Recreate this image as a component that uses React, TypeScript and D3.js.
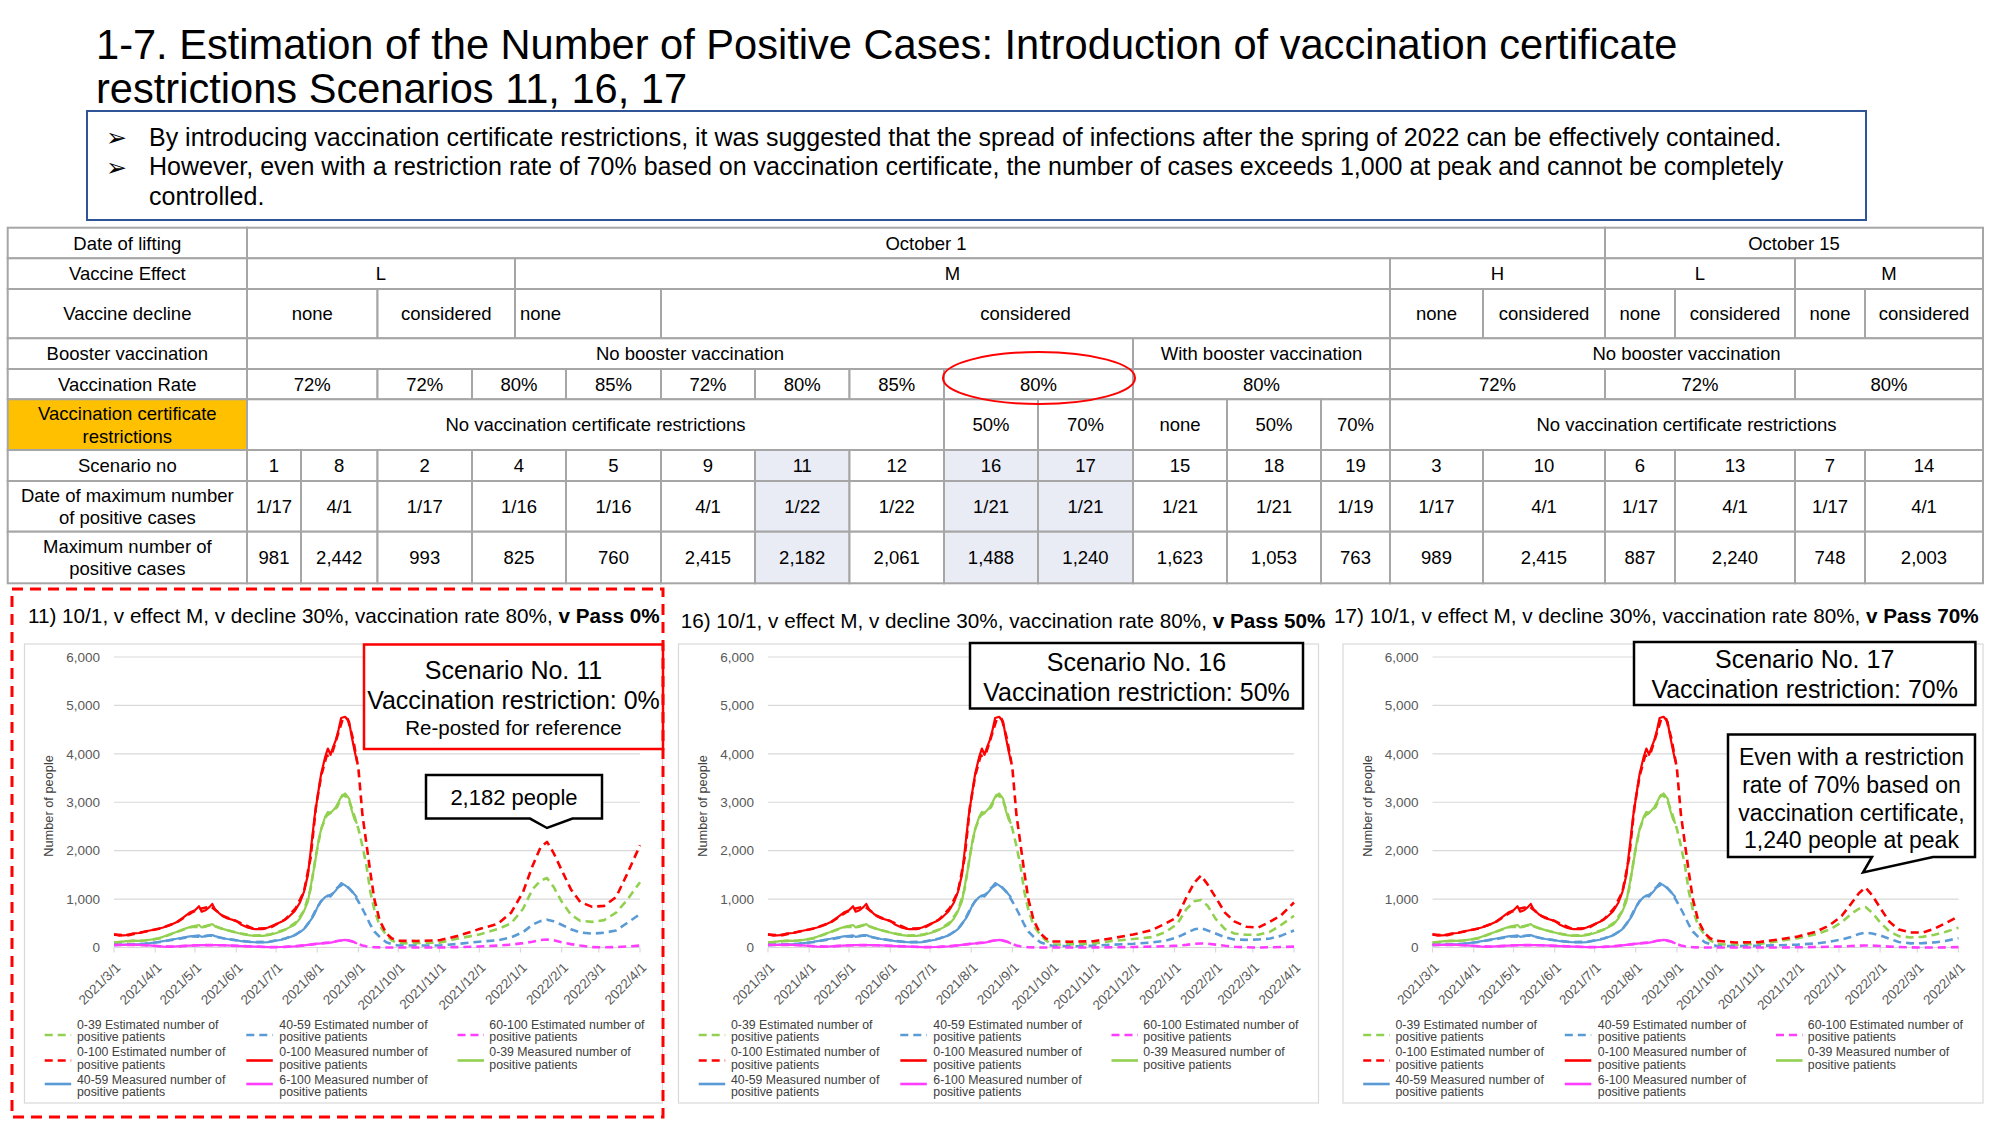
import React from 'react';
import * as d3 from 'd3';

const FONT = '"Liberation Sans", Arial, Helvetica, sans-serif';

// ---------- header
const titleLines = [
  '1-7. Estimation of the Number of Positive Cases: Introduction of vaccination certificate',
  'restrictions Scenarios 11, 16, 17',
];
const bulletLines = [
  { bullet: true, text: 'By introducing vaccination certificate restrictions, it was suggested that the spread of infections after the spring of 2022 can be effectively contained.' },
  { bullet: true, text: 'However, even with a restriction rate of 70% based on vaccination certificate, the number of cases exceeds 1,000 at peak and cannot be completely' },
  { bullet: false, text: 'controlled.' },
];

// ---------- table
const rowLabels = [
  ['Date of lifting'], ['Vaccine Effect'], ['Vaccine decline'], ['Booster vaccination'], ['Vaccination Rate'],
  ['Vaccination certificate', 'restrictions'], ['Scenario no'], ['Date of maximum number', 'of positive cases'],
  ['Maximum number of', 'positive cases'],
];
const liftingDates = ['October 1', 'October 15'];
const vaccineEffects = ['L', 'M', 'H', 'L', 'M'];
const vaccineDeclines = ['none', 'considered', 'none', 'considered', 'none', 'considered', 'none', 'considered', 'none', 'considered'];
const boosterTypes = ['No booster vaccination', 'With booster vaccination', 'No booster vaccination'];
const vaccinationRates = ['72%', '72%', '80%', '85%', '72%', '80%', '85%', '80%', '80%', '72%', '72%', '80%'];
const certRestrictions = ['No vaccination certificate restrictions', '50%', '70%', 'none', '50%', '70%', 'No vaccination certificate restrictions'];
const scenarioNos = ['1', '8', '2', '4', '5', '9', '11', '12', '16', '17', '15', '18', '19', '3', '10', '6', '13', '7', '14'];
const peakDates = ['1/17', '4/1', '1/17', '1/16', '1/16', '4/1', '1/22', '1/22', '1/21', '1/21', '1/21', '1/21', '1/19', '1/17', '4/1', '1/17', '4/1', '1/17', '4/1'];
const peakCases = ['981', '2,442', '993', '825', '760', '2,415', '2,182', '2,061', '1,488', '1,240', '1,623', '1,053', '763', '989', '2,415', '887', '2,240', '748', '2,003'];
const highlighted = ['11', '16', '17'];

// ---------- charts
const xTickLabels = ['2021/3/1', '2021/4/1', '2021/5/1', '2021/6/1', '2021/7/1', '2021/8/1', '2021/9/1', '2021/10/1',
  '2021/11/1', '2021/12/1', '2022/1/1', '2022/2/1', '2022/3/1', '2022/4/1'];
const yTicks = [0, 1000, 2000, 3000, 4000, 5000, 6000];

const measuredDates = ['2021/3/1', '2021/3/5', '2021/3/10', '2021/3/15', '2021/3/20', '2021/3/25', '2021/4/1', '2021/4/7',
  '2021/4/12', '2021/4/17', '2021/4/22', '2021/4/27', '2021/5/1', '2021/5/4', '2021/5/6', '2021/5/9', '2021/5/12',
  '2021/5/14', '2021/5/16', '2021/5/20', '2021/5/25', '2021/6/1', '2021/6/5', '2021/6/10', '2021/6/15', '2021/6/21',
  '2021/6/25', '2021/6/30', '2021/7/5', '2021/7/10', '2021/7/15', '2021/7/19', '2021/7/22', '2021/7/25', '2021/7/28',
  '2021/7/30', '2021/8/2', '2021/8/4', '2021/8/7', '2021/8/9', '2021/8/11', '2021/8/13', '2021/8/15', '2021/8/17',
  '2021/8/19', '2021/8/22', '2021/8/25', '2021/8/27', '2021/8/29', '2021/8/31'];
const measuredTotal = [275, 245, 255, 290, 300, 335, 372, 413, 460, 520, 619, 722, 770, 853, 740, 770, 839, 900, 791, 688,
  605, 550, 468, 410, 378, 380, 413, 470, 530, 620, 750, 930, 1150, 1500, 2214, 2700, 3248, 3594, 3938, 4110, 3980, 4145,
  4283, 4490, 4740, 4766, 4662, 4352, 4076, 3834];
const measured039 = [103, 110, 130, 140, 138, 150, 172, 220, 275, 320, 378, 420, 447, 465, 413, 427, 460, 485, 440, 400,
  358, 310, 280, 255, 241, 241, 255, 289, 330, 400, 470, 600, 750, 950, 1400, 1700, 2214, 2450, 2700, 2800, 2780, 2835,
  2900, 3000, 3110, 3180, 3076, 2835, 2650, 2559];
const measured4059 = [55, 55, 60, 65, 69, 80, 103, 130, 158, 180, 206, 228, 241, 250, 220, 235, 250, 258, 235, 206, 175,
  151, 130, 115, 108, 103, 110, 138, 160, 200, 250, 317, 380, 490, 600, 697, 880, 960, 1040, 1076, 1050, 1120, 1179, 1260,
  1331, 1283, 1220, 1170, 1100, 1040];
const measured60 = [55, 52, 55, 58, 55, 50, 34, 18, 10, 22, 32, 40, 45, 47, 48, 48, 50, 52, 50, 47, 42, 35, 30, 25, 20,
  12, 8, 5, 10, 18, 25, 35, 45, 55, 65, 70, 80, 85, 95, 97, 100, 110, 125, 140, 145, 159, 150, 131, 110, 80];

// estimated values up to the lifting date (same in all scenarios)
const fitDates = ['2021/3/1', '2021/3/12', '2021/3/24', '2021/4/5', '2021/4/17', '2021/4/29', '2021/5/5', '2021/5/13',
  '2021/5/22', '2021/6/2', '2021/6/14', '2021/6/26', '2021/7/8', '2021/7/16', '2021/7/22', '2021/7/27', '2021/7/31',
  '2021/8/4', '2021/8/8', '2021/8/12', '2021/8/16', '2021/8/20', '2021/8/24', '2021/8/28', '2021/9/1', '2021/9/4',
  '2021/9/7', '2021/9/10', '2021/9/13', '2021/9/17', '2021/9/22', '2021/9/26'];
const fitTotal = [265, 255, 325, 395, 515, 730, 800, 850, 650, 535, 385, 400, 580, 820, 1150, 1850, 2900, 3550, 3950,
  4000, 4350, 4700, 4720, 4300, 3700, 2750, 2150, 1550, 1000, 560, 290, 190];
const fit039 = [100, 130, 145, 190, 320, 430, 420, 470, 380, 300, 245, 265, 370, 520, 760, 1200, 1900, 2450, 2720, 2800,
  2900, 3150, 3100, 2800, 2450, 2100, 1700, 1150, 780, 450, 260, 150];
const fit4059 = [50, 60, 78, 115, 170, 230, 225, 250, 190, 145, 110, 120, 185, 270, 380, 560, 780, 960, 1050, 1100, 1230,
  1300, 1250, 1130, 950, 800, 640, 470, 330, 220, 110, 70];
const fit60 = [55, 55, 50, 25, 20, 40, 47, 50, 45, 33, 20, 8, 12, 28, 45, 60, 75, 85, 95, 105, 135, 150, 145, 120, 70, 40,
  25, 12, 6, 3, 0, 0];

// estimated values after lifting, per scenario
const forecastDates = ['2021/10/1', '2021/10/15', '2021/11/1', '2021/11/15', '2021/12/1', '2021/12/15', '2021/12/25',
  '2022/1/3', '2022/1/10', '2022/1/16', '2022/1/21', '2022/1/26', '2022/2/1', '2022/2/8', '2022/2/15', '2022/2/24',
  '2022/3/5', '2022/3/14', '2022/3/22', '2022/4/1'];
const total11 = [140, 135, 150, 240, 380, 490, 720, 1150, 1680, 2060, 2182, 1950, 1600, 1200, 940, 840, 860, 1040, 1500, 2110];
const a039_11 = [85, 90, 100, 185, 270, 380, 500, 800, 1200, 1380, 1435, 1250, 950, 680, 550, 530, 565, 720, 970, 1350];
const a4059_11 = [40, 40, 40, 75, 120, 150, 210, 317, 470, 545, 575, 540, 470, 375, 310, 285, 305, 352, 500, 690];
const a60_11 = [0, 0, 0, 8, 20, 40, 60, 90, 120, 155, 165, 150, 110, 70, 40, 8, 5, 8, 20, 41];

const total16 = [125, 120, 130, 190, 270, 360, 490, 621, 1035, 1340, 1488, 1300, 1035, 720, 540, 430, 410, 535, 660, 930];
const a039_16 = [60, 65, 80, 135, 175, 215, 315, 483, 793, 955, 980, 862, 590, 380, 290, 262, 262, 325, 460, 655];
const a4059_16 = [35, 25, 35, 58, 76, 105, 140, 210, 300, 375, 400, 350, 290, 210, 166, 158, 165, 185, 240, 352];
const a60_16 = [0, 0, 0, 5, 10, 18, 25, 38, 55, 75, 83, 80, 60, 35, 15, 5, 0, 5, 10, 18];

const total17 = [138, 103, 110, 160, 225, 330, 460, 650, 900, 1120, 1240, 1080, 820, 530, 370, 310, 310, 390, 500, 640];
const a039_17 = [69, 55, 70, 124, 193, 276, 370, 520, 690, 800, 835, 720, 520, 330, 235, 207, 220, 265, 320, 410];
const a4059_17 = [30, 30, 35, 45, 60, 85, 120, 165, 215, 280, 310, 290, 250, 180, 115, 85, 90, 105, 135, 193];
const a60_17 = [0, 0, 0, 0, 5, 10, 15, 22, 30, 38, 42, 40, 30, 18, 10, 3, 0, 0, 3, 8];

const legendLabels = [
  ['0-39 Estimated number of', 'positive patients'],
  ['40-59 Estimated number of', 'positive patients'],
  ['60-100 Estimated number of', 'positive patients'],
  ['0-100 Estimated number of', 'positive patients'],
  ['0-100 Measured number of', 'positive patients'],
  ['0-39 Measured number of', 'positive patients'],
  ['40-59 Measured number of', 'positive patients'],
  ['6-100 Measured number of', 'positive patients'],
];

const GREEN = '#92D050';
const BLUE = '#5B9BD5';
const MAGENTA = '#FF3DFF';
const RED = '#FF0000';
const GRID = '#D9D9D9';

// ---------- layout
const COL = [7.7, 247, 301, 377.5, 472, 566, 661, 755, 849.5, 944, 1038, 1133, 1227, 1321, 1390, 1483, 1605, 1675, 1795, 1865, 1983];
const ROW = [227.7, 258.3, 289, 338.3, 369, 399.3, 450, 481, 531.7, 583.3];
const SPAN_EDGES = [
  [247, 1605, 1983],
  [247, 515, 1390, 1605, 1795, 1983],
  [247, 377.5, 515, 661, 1390, 1483, 1605, 1675, 1795, 1865, 1983],
  [247, 1133, 1390, 1983],
  [247, 377.5, 472, 566, 661, 755, 849.5, 944, 1133, 1390, 1605, 1795, 1983],
  [247, 944, 1038, 1133, 1227, 1321, 1390, 1983],
];
const spanTexts = [liftingDates, vaccineEffects, vaccineDeclines, boosterTypes, vaccinationRates, certRestrictions];

const PLOT_W = 526;
const PLOT_TOP = 657;
const PLOT_BOTTOM = 947.5;

const panels = [
  { no: '11', pass: '0%', left: 114, boxW: 638, titleX: 28, titleY: 623, f: [a039_11, a4059_11, a60_11, total11] },
  { no: '16', pass: '50%', left: 768, boxW: 640, titleX: 680.7, titleY: 628, f: [a039_16, a4059_16, a60_16, total16] },
  { no: '17', pass: '70%', left: 1432.5, boxW: 640, titleX: 1334, titleY: 623, f: [a039_17, a4059_17, a60_17, total17] },
];

const parseDay = (s: string) => {
  const [y, m, d] = s.split('/').map(Number);
  return new Date(y, m - 1, d);
};
const zip = (dates: string[], vals: number[]) => dates.map((d, i) => [parseDay(d), vals[i]] as [Date, number]);
const fmt = d3.format(',');

function Txt({ x, y, size, children, anchor = 'middle', weight = 'normal', fill = '#000', family = FONT, ...rest }: any) {
  return (
    <text x={x} y={y} fontSize={size} textAnchor={anchor} fontWeight={weight} fill={fill} fontFamily={family} {...rest}>
      {children}
    </text>
  );
}

function Table() {
  const tableFs = 18.5;
  const cells: any[] = [];
  const rowCenter = (r: number) => (ROW[r] + ROW[r + 1]) / 2;
  // label column
  rowLabels.forEach((lines, r) => {
    const cy = rowCenter(r);
    cells.push(
      <g key={'lab' + r}>
        <rect x={COL[0]} y={ROW[r]} width={COL[1] - COL[0]} height={ROW[r + 1] - ROW[r]}
          fill={r === 5 ? '#FFC000' : '#fff'} stroke="#A6A6A6" strokeWidth={2} />
        {lines.map((t, i) => (
          <Txt key={i} x={(COL[0] + COL[1]) / 2} y={cy + (i - (lines.length - 1) / 2) * 22.6 + tableFs * 0.36} size={tableFs}>{t}</Txt>
        ))}
      </g>
    );
  });
  // merged rows
  spanTexts.forEach((texts, r) => {
    const edges = SPAN_EDGES[r];
    texts.forEach((t, i) => {
      const x0 = edges[i];
      const x1 = edges[i + 1];
      const left = r === 2 && i === 2;
      cells.push(
        <g key={`s${r}-${i}`}>
          <rect x={x0} y={ROW[r]} width={x1 - x0} height={ROW[r + 1] - ROW[r]} fill="#fff" stroke="#A6A6A6" strokeWidth={2} />
          <Txt x={left ? x0 + 5 : (x0 + x1) / 2} y={rowCenter(r) + tableFs * 0.36} size={tableFs} anchor={left ? 'start' : 'middle'}>{t}</Txt>
        </g>
      );
    });
  });
  // per-scenario rows
  [scenarioNos, peakDates, peakCases].forEach((vals, k) => {
    const r = 6 + k;
    vals.forEach((t, i) => {
      const x0 = COL[i + 1];
      const x1 = COL[i + 2];
      const hl = highlighted.includes(scenarioNos[i]);
      cells.push(
        <g key={`d${r}-${i}`}>
          <rect x={x0} y={ROW[r]} width={x1 - x0} height={ROW[r + 1] - ROW[r]} fill={hl ? '#E9EBF5' : '#fff'} stroke="#A6A6A6" strokeWidth={2} />
          <Txt x={(x0 + x1) / 2} y={rowCenter(r) + tableFs * 0.36} size={tableFs}>{t}</Txt>
        </g>
      );
    });
  });
  return (
    <g>
      {cells}
      <ellipse cx={1039} cy={378} rx={96} ry={26} fill="none" stroke={RED} strokeWidth={2} />
    </g>
  );
}

function Panel({ p }: any) {
  const x = d3.scaleTime()
    .domain([parseDay(xTickLabels[0]), parseDay(xTickLabels[xTickLabels.length - 1])])
    .range([p.left, p.left + PLOT_W]);
  const y = d3.scaleLinear().domain([0, 6000]).range([PLOT_BOTTOM, PLOT_TOP]);
  const line = d3.line<[Date, number]>().x((d) => x(d[0])).y((d) => y(d[1]));
  const estDates = [...fitDates, ...forecastDates];
  const series = [
    { pts: zip(estDates, [...fit039, ...p.f[0]]), color: GREEN, dashed: true },
    { pts: zip(estDates, [...fit4059, ...p.f[1]]), color: BLUE, dashed: true },
    { pts: zip(estDates, [...fit60, ...p.f[2]]), color: MAGENTA, dashed: true },
    { pts: zip(estDates, [...fitTotal, ...p.f[3]]), color: RED, dashed: true },
    { pts: zip(measuredDates, measuredTotal), color: RED, dashed: false },
    { pts: zip(measuredDates, measured039), color: GREEN, dashed: false },
    { pts: zip(measuredDates, measured4059), color: BLUE, dashed: false },
    { pts: zip(measuredDates, measured60), color: MAGENTA, dashed: false },
  ];
  const swatchX = [-69.3, 132.3, 343.5];
  const textX = [-37, 165.3, 375.3];
  const rowY = [1024.5, 1052, 1079.5];
  const swY = [1035, 1060.5, 1084];
  const boxLeft = p.left - 89.5;
  return (
    <g>
      <rect x={boxLeft} y={644} width={p.boxW} height={459} fill="#fff" stroke={GRID} strokeWidth={1.2} />
      <text x={p.titleX} y={p.titleY} fontSize={20.7} fontFamily={FONT} fill="#000">
        {`${p.no}) 10/1, v effect M, v decline 30%, vaccination rate 80%, `}
        <tspan fontWeight="bold">{`v Pass ${p.pass}`}</tspan>
      </text>
      {yTicks.map((v) => (
        <g key={v}>
          <line x1={p.left} x2={p.left + PLOT_W} y1={y(v)} y2={y(v)} stroke={GRID} strokeWidth={1.2} />
          <Txt x={p.left - 14} y={y(v) + 4.8} size={13.5} anchor="end" fill="#595959">{fmt(v)}</Txt>
        </g>
      ))}
      {xTickLabels.map((t) => {
        const xx = x(parseDay(t));
        return (
          <g key={t}>
            <line x1={xx} x2={xx} y1={PLOT_BOTTOM} y2={PLOT_BOTTOM + 5} stroke={GRID} strokeWidth={1.2} />
            <text transform={`translate(${xx + 4},${965}) rotate(-45)`} dy="0.35em" textAnchor="end" fontSize={13.5}
              fontFamily={FONT} fill="#595959">{t}</text>
          </g>
        );
      })}
      <text transform={`translate(${p.left - 61},${806}) rotate(-90)`} textAnchor="middle" fontSize={12.8} fontFamily={FONT} fill="#404040">
        Number of people
      </text>
      {series.map((s, i) => (
        <path key={i} d={line(s.pts) || ''} fill="none" stroke={s.color} strokeWidth={s.dashed ? 2.6 : 2.2}
          strokeDasharray={s.dashed ? '8 5' : undefined} strokeLinejoin="round" />
      ))}
      {legendLabels.map((lab, i) => {
        const c = i % 3;
        const r = Math.floor(i / 3);
        const s = series[i];
        return (
          <g key={i}>
            <line x1={p.left + swatchX[c]} x2={p.left + swatchX[c] + 26.5} y1={swY[r]} y2={swY[r]} stroke={s.color}
              strokeWidth={2.6} strokeDasharray={s.dashed ? '8 5' : undefined} />
            {lab.map((t, k) => (
              <Txt key={k} x={p.left + textX[c]} y={rowY[r] + k * 12.5 + 4.4} size={12.3} anchor="start" fill="#404040">{t}</Txt>
            ))}
          </g>
        );
      })}
    </g>
  );
}

export default function App() {
  return (
    <div style={{ position: 'absolute', left: 0, top: 0, width: 2000, height: 1125, background: '#fff' }}>
      <svg width={2000} height={1125} viewBox="0 0 2000 1125">
        <rect x={0} y={0} width={2000} height={1125} fill="#fff" />
        {titleLines.map((t, i) => (
          <Txt key={i} x={96} y={59 + i * 44} size={41.6} anchor="start">{t}</Txt>
        ))}
        <rect x={87} y={111} width={1779} height={109} fill="#fff" stroke="#2F5597" strokeWidth={2} />
        {bulletLines.map((b, i) => (
          <g key={i}>
            {b.bullet && <Txt x={106} y={146 + i * 29.7} size={25} anchor="start" family='"DejaVu Sans", sans-serif'>➢</Txt>}
            <Txt x={149} y={145.5 + i * 29.7} size={25} anchor="start">{b.text}</Txt>
          </g>
        ))}
        <Table />

        {panels.map((p) => <Panel key={p.no} p={p} />)}

        {/* panel 11 annotations */}
        <rect x={364} y={644.5} width={299} height={104.5} fill="#fff" stroke={RED} strokeWidth={2.5} />
        <Txt x={513.5} y={679} size={25}>Scenario No. 11</Txt>
        <Txt x={513.5} y={709} size={25}>Vaccination restriction: 0%</Txt>
        <Txt x={513.5} y={735.3} size={20.5}>Re-posted for reference</Txt>
        <path d="M426,775 H602 V818.6 H572.5 L547,828 L530,818.6 H426 Z" fill="#fff" stroke="#000" strokeWidth={2.5} />
        <Txt x={514} y={805} size={22}>2,182 people</Txt>
        <rect x={12} y={589} width={651} height={528} fill="none" stroke={RED} strokeWidth={3} strokeDasharray="11 7" />

        {/* panel 16 annotations */}
        <rect x={970} y={643} width={333} height={65.5} fill="#fff" stroke="#000" strokeWidth={2.5} />
        <Txt x={1136.5} y={671} size={25}>Scenario No. 16</Txt>
        <Txt x={1136.5} y={701} size={25}>Vaccination restriction: 50%</Txt>

        {/* panel 17 annotations */}
        <rect x={1634} y={642} width={341.4} height={63} fill="#fff" stroke="#000" strokeWidth={2.5} />
        <Txt x={1804.7} y={668.4} size={25}>Scenario No. 17</Txt>
        <Txt x={1804.7} y={697.8} size={25}>Vaccination restriction: 70%</Txt>
        <path d="M1728,734.5 H1975 V857 H1933 L1863,872.5 L1872,857 H1728 Z" fill="#fff" stroke="#000" strokeWidth={2.5} />
        <Txt x={1851.5} y={764.5} size={23}>Even with a restriction</Txt>
        <Txt x={1851.5} y={793} size={23}>rate of 70% based on</Txt>
        <Txt x={1851.5} y={820.5} size={23}>vaccination certificate,</Txt>
        <Txt x={1851.5} y={848} size={23}>1,240 people at peak</Txt>
      </svg>
    </div>
  );
}
